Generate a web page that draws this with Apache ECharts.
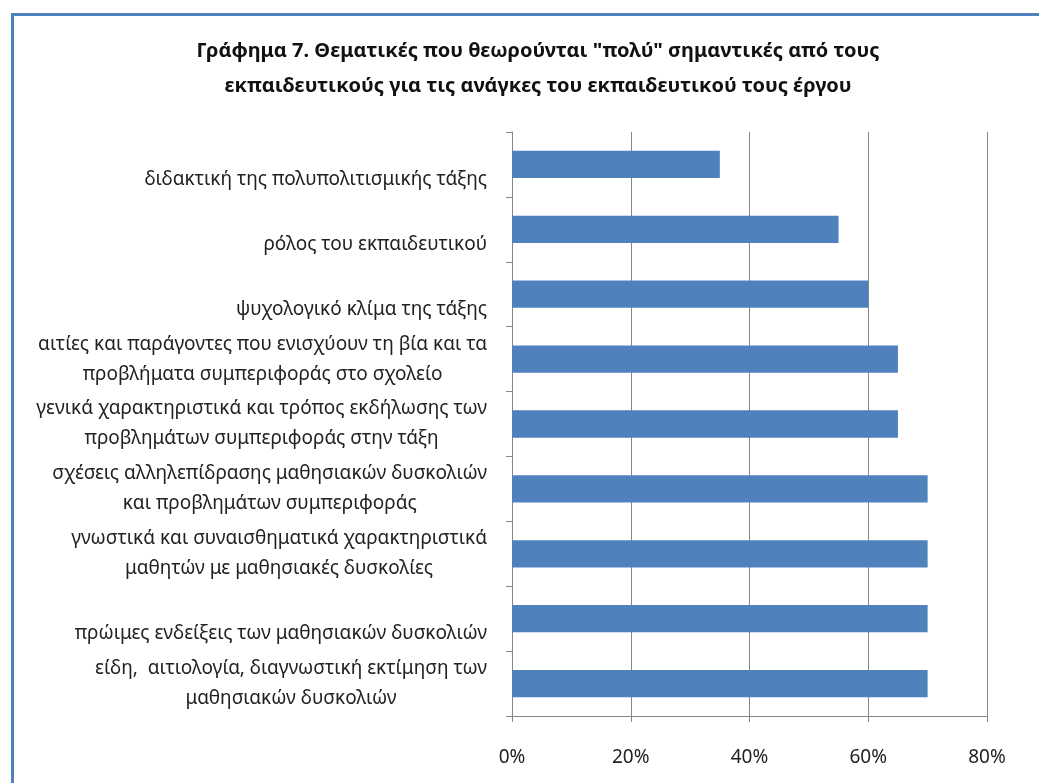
<!DOCTYPE html>
<html>
<head>
<meta charset="utf-8">
<script src="https://cdn.jsdelivr.net/npm/echarts@6/dist/echarts.min.js"></script>
<style>
  html, body { margin: 0; padding: 0; background: #fff; }
  #chart { width: 1039px; height: 783px; }
</style>
</head>
<body>
<div id="chart"></div>
<script>
// topics, top to bottom as in the picture
var categories = [
  'διδακτική της πολυπολιτισμικής τάξης',
  'ρόλος του εκπαιδευτικού',
  'ψυχολογικό κλίμα της τάξης',
  'αιτίες και παράγοντες που ενισχύουν τη βία και τα\nπροβλήματα συμπεριφοράς στο σχολείο',
  'γενικά χαρακτηριστικά και τρόπος εκδήλωσης των\nπροβλημάτων συμπεριφοράς στην τάξη',
  'σχέσεις αλληλεπίδρασης μαθησιακών δυσκολιών\nκαι προβλημάτων συμπεριφοράς',
  'γνωστικά και συναισθηματικά χαρακτηριστικά\nμαθητών με μαθησιακές δυσκολίες',
  'πρώιμες ενδείξεις των μαθησιακών δυσκολιών',
  'είδη,  αιτιολογία, διαγνωστική εκτίμηση των\nμαθησιακών δυσκολιών'
];
// percent answering "πολύ"
var values = [35, 55, 60, 65, 65, 70, 70, 70, 70];

var titleText = 'Γράφημα 7. Θεματικές που θεωρούνται "πολύ" σημαντικές από τους\nεκπαιδευτικούς για τις ανάγκες του εκπαιδευτικού τους έργου';

var font = '"Noto Sans", "Open Sans", sans-serif';
var gray = '#868686';

var chart = echarts.init(document.getElementById('chart'), null, { renderer: 'canvas' });

var option = {
  backgroundColor: '#fff',
  animation: false,
  title: {
    text: titleText,
    left: 533,
    top: 29,
    textAlign: 'center',
    textStyle: {
      fontFamily: font,
      fontSize: 20,
      fontWeight: 'bold',
      color: '#111',
      lineHeight: 35
    }
  },
  graphic: [{
    type: 'rect',
    silent: true,
    shape: { x: 12.5, y: 14.5, width: 1200, height: 1000 },
    style: { fill: 'none', stroke: '#4F81BD', lineWidth: 3 }
  }],
  grid: {
    left: 512,
    right: 52,
    top: 132,
    bottom: 67,
    containLabel: false
  },
  xAxis: {
    type: 'value',
    min: 0,
    max: 80,
    interval: 20,
    axisLine: { show: true, lineStyle: { color: gray, width: 1 } },
    axisTick: { show: true, length: 6, lineStyle: { color: gray } },
    splitLine: { show: true, lineStyle: { color: gray, width: 1 } },
    axisLabel: {
      formatter: '{value}%',
      margin: 32,
      fontFamily: font,
      fontSize: 19,
      color: '#222'
    }
  },
  yAxis: {
    type: 'category',
    inverse: true,
    data: categories,
    axisLine: { show: true, lineStyle: { color: gray, width: 1 } },
    axisTick: { show: true, length: 6, lineStyle: { color: gray } },
    splitLine: { show: false },
    axisLabel: {
      margin: 25,
      fontFamily: font,
      fontSize: 19,
      color: '#222',
      lineHeight: 30,
      formatter: function (val) {
        var lines = val.split('\n');
        var out = lines.map(function (l) { return '{c|' + l + '}'; }).join('\n');
        // single line labels sit a bit lower in the original
        if (lines.length === 1) out = '{c| }\n' + out;
        return out;
      },
      rich: {
        c: {
          align: 'center',
          fontFamily: font,
          fontSize: 19,
          color: '#222',
          lineHeight: 30
        }
      }
    }
  },
  series: [{
    type: 'bar',
    data: values,
    barCategoryGap: '58%',
    itemStyle: { color: '#4F81BD' }
  }]
};

chart.setOption(option);
</script>
</body>
</html>
